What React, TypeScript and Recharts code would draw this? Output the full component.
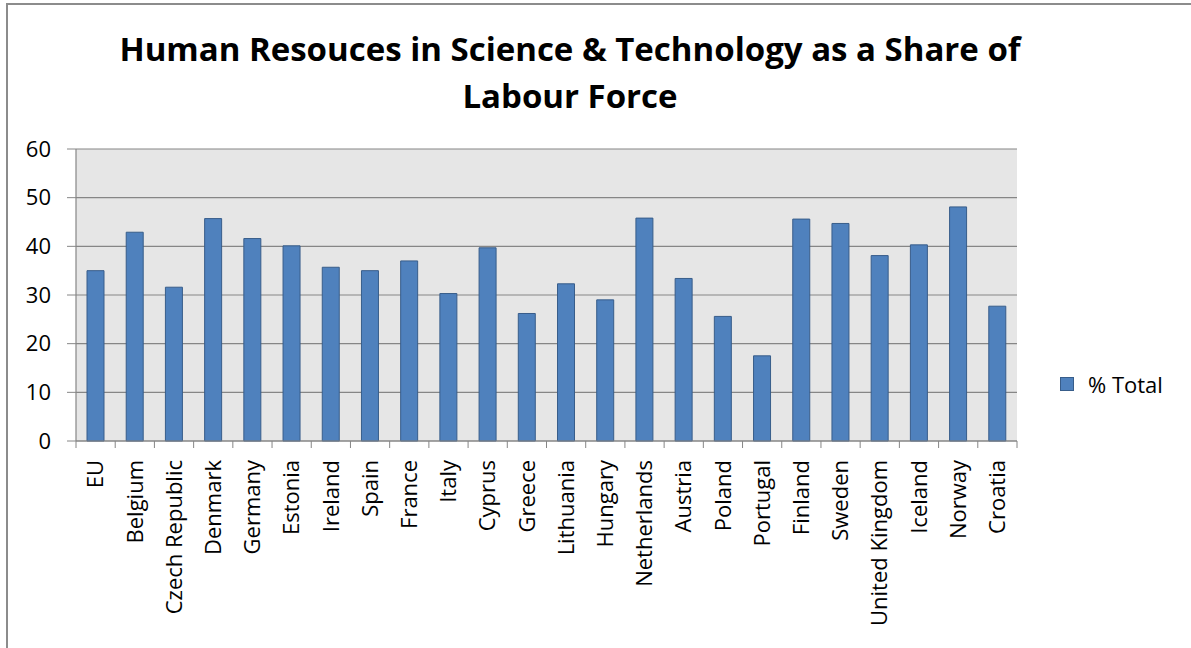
import { BarChart, Bar, XAxis, YAxis, CartesianGrid } from "recharts";

const countries = [
  "EU",
  "Belgium",
  "Czech Republic",
  "Denmark",
  "Germany",
  "Estonia",
  "Ireland",
  "Spain",
  "France",
  "Italy",
  "Cyprus",
  "Greece",
  "Lithuania",
  "Hungary",
  "Netherlands",
  "Austria",
  "Poland",
  "Portugal",
  "Finland",
  "Sweden",
  "United Kingdom",
  "Iceland",
  "Norway",
  "Croatia",
];

const shareTotal = [
  35.0, 42.9, 31.6, 45.7, 41.6, 40.1, 35.7, 35.0, 37.0, 30.3, 39.7, 26.2,
  32.3, 29.0, 45.8, 33.4, 25.6, 17.5, 45.6, 44.7, 38.1, 40.3, 48.1, 27.7,
];

const yTicks = [0, 10, 20, 30, 40, 50, 60];

const data = countries.map((name, i) => ({ name, total: shareTotal[i] }));

const FONT = "'Open Sans', sans-serif";
const AXIS_GREY = "#868686";
const W = 1191;
const H = 648;
const PLOT_LEFT = 76;
const PLOT_RIGHT = 1017;
const PLOT_TOP = 149;
const PLOT_BOTTOM = 441;
const STEP = (PLOT_RIGHT - PLOT_LEFT) / countries.length;

// Excel-style category axis: ticks between categories, labels turned upright
const CategoryTick = ({ x, y, payload, index }: any) => {
  const half = STEP / 2;
  return (
    <g>
      <line x1={x - half} x2={x - half} y1={y} y2={y + 7} stroke={AXIS_GREY} />
      {index === countries.length - 1 && (
        <line x1={x + half} x2={x + half} y1={y} y2={y + 7} stroke={AXIS_GREY} />
      )}
      <text
        transform={`translate(${x},${y + 19}) rotate(-90)`}
        textAnchor="end"
        dy="0.35em"
        fontSize={22}
        fontFamily={FONT}
        fill="#000"
      >
        {payload.value}
      </text>
    </g>
  );
};

export default function App() {
  return (
    <div
      style={{
        position: "absolute",
        left: 0,
        top: 0,
        width: W,
        height: H,
        overflow: "hidden",
        background: "#fff",
      }}
    >
      <div
        style={{
          position: "absolute",
          left: 6,
          top: 3,
          width: W + 20,
          height: H + 20,
          border: "2px solid #8c8c8c",
        }}
      />
      <div
        style={{
          position: "absolute",
          left: 0,
          top: 25,
          width: 1140,
          textAlign: "center",
          fontFamily: FONT,
          fontWeight: 700,
          fontSize: 33,
          lineHeight: "47px",
          color: "#000",
        }}
      >
        Human Resouces in Science &amp; Technology as a Share of
        <br />
        Labour Force
      </div>

      <BarChart
        width={W}
        height={H}
        data={data}
        margin={{ top: PLOT_TOP, right: W - PLOT_RIGHT, bottom: 0, left: 0 }}
        barSize={17}
        style={{ position: "absolute", left: 0, top: 0 }}
      >
        <CartesianGrid
          vertical={false}
          stroke={AXIS_GREY}
          strokeWidth={1.2}
          fill="#e6e6e6"
          fillOpacity={1}
        />
        <XAxis
          dataKey="name"
          interval={0}
          height={H - PLOT_BOTTOM}
          axisLine={{ stroke: AXIS_GREY, strokeWidth: 1.2 }}
          tickLine={false}
          tickSize={0}
          tickMargin={0}
          tick={<CategoryTick />}
        />
        <YAxis
          width={PLOT_LEFT}
          domain={[0, 60]}
          ticks={yTicks}
          interval={0}
          axisLine={{ stroke: AXIS_GREY, strokeWidth: 1.2 }}
          tickLine={{ stroke: AXIS_GREY }}
          tickSize={9}
          tickMargin={16}
          tick={{ fill: "#000", fontSize: 22, fontFamily: FONT }}
        />
        <Bar
          dataKey="total"
          name="% Total"
          fill="#4f81bd"
          stroke="#385d8a"
          strokeWidth={1}
          isAnimationActive={false}
        />
      </BarChart>

      <div
        style={{
          position: "absolute",
          left: 1060,
          top: 369,
          display: "flex",
          alignItems: "center",
          fontFamily: FONT,
          fontSize: 22,
          color: "#000",
        }}
      >
        <span
          style={{
            display: "inline-block",
            width: 12,
            height: 12,
            background: "#4f81bd",
            border: "1px solid #385d8a",
            marginRight: 14,
          }}
        />
        % Total
      </div>
    </div>
  );
}
